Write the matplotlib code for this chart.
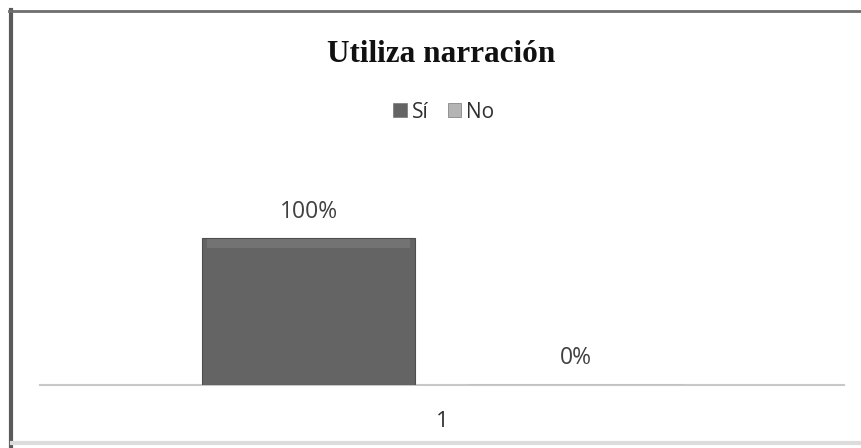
import matplotlib
matplotlib.use("Agg")
import matplotlib.pyplot as plt
from matplotlib.lines import Line2D
from matplotlib.patches import Rectangle

# data
categories = ["1"]
series_names = ["Sí", "No"]
series_values = [100, 0]
series_colors = ["#646464", "#b4b4b4"]

W, H = 861, 448
fig = plt.figure(figsize=(W / 100, H / 100), dpi=100)
fig.patch.set_facecolor("white")

# plot area in pixels (from the reference)
x0, x1 = 40, 844
y_base, y_top = 385, 150
ax = fig.add_axes([x0 / W, (H - y_base) / H, (x1 - x0) / W, (y_base - y_top) / H])
ax.set_facecolor("none")

bar_w = 0.265
gap = 0.067
offsets = [-(bar_w + gap) / 2, (bar_w + gap) / 2]
for name, val, col, off in zip(series_names, series_values, series_colors, offsets):
    ax.bar(0 + off, val, width=bar_w, color=col, edgecolor="#4e4e4e",
           linewidth=0.8, label=name, zorder=3)
    if val > 0:
        # slight bevel highlight on top of the bar
        ax.bar(0 + off, val * 0.06, bottom=val * 0.935, width=bar_w * 0.95,
               color="#737373", linewidth=0, zorder=4)
    ax.annotate(f"{val}%", (off, val), textcoords="offset pixels",
                xytext=(0, 26 if val > 0 else 27), ha="center", va="center",
                fontsize=16.5, family="Open Sans", color="#404040")

ax.set_xlim(-0.5, 0.5)
ax.set_ylim(0, (y_base - y_top) / (y_base - 238) * 100)
for s in ["top", "right", "left"]:
    ax.spines[s].set_visible(False)
ax.spines["bottom"].set_color("#c8c8c8")
ax.spines["bottom"].set_linewidth(1.5)
ax.set_yticks([])
ax.set_xticks([0])
ax.set_xticklabels(categories, fontsize=16, family="Open Sans", color="#303030")
ax.tick_params(axis="x", length=0, pad=19)

fig.text(441 / W, 1 - 54 / H, "Utiliza narración", ha="center", va="center",
         fontsize=22.5, fontweight="bold", family="Liberation Serif", color="#111111")

handles = [Rectangle((0, 0), 1, 1, facecolor=c, edgecolor="#777777", lw=0.5)
           for c in series_colors]
fig.legend(handles, series_names, loc="center", bbox_to_anchor=(444 / W, 1 - 112 / H),
           ncol=2, frameon=False, prop={"family": "Open Sans", "size": 15},
           handlelength=0.65, handleheight=0.65, handletextpad=0.25, columnspacing=0.9,
           labelcolor="#303030")

# outer frame like the screenshot
fig.add_artist(Line2D([10.5 / W, 10.5 / W], [0, 1 - 10 / H], color="#5a5a5a",
                      lw=3, transform=fig.transFigure))
fig.add_artist(Line2D([9 / W, 1], [1 - 11 / H, 1 - 11 / H], color="#6e6e6e",
                      lw=2, transform=fig.transFigure))
fig.add_artist(Line2D([12 / W, 1], [5 / H, 5 / H], color="#dcdcdc",
                      lw=3, transform=fig.transFigure))

fig.savefig("out.png", dpi=100)
